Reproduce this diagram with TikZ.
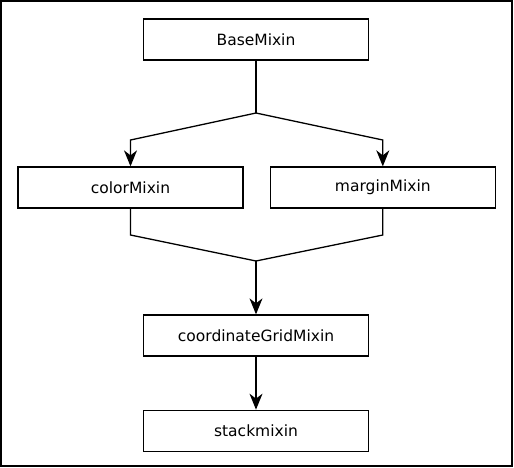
\documentclass[tikz,border=0pt]{standalone}
\usepackage{fontspec}
\setmainfont{DejaVu Sans}
\usetikzlibrary{arrows.meta,positioning}

\begin{document}
\begin{tikzpicture}[
    x=1pt, y=-1pt,
    mixin/.style={rectangle, draw, line width=1.3pt, minimum width=225pt, minimum height=41pt, inner sep=0pt, font=\fontsize{15.5}{18}\selectfont},
    line/.style={line width=1.3pt},
    arrow/.style={line, -{Stealth[length=16pt,width=13pt,inset=5pt]}}
]
    \useasboundingbox (0,0) rectangle (514,467);
    \draw[line width=2pt] (1,1) rectangle (512,466);

    \node[mixin] (base) at (256,39.5) {BaseMixin};
    \node[mixin] (color) at (130.5,187.5) {colorMixin};
    \node[mixin, right=26pt of color] (margin) {marginMixin};
    \node[mixin] (grid) at (256,335.5) {coordinateGridMixin};
    \node[mixin, below=53pt of grid] (stack) {stackmixin};

    \coordinate (split) at (256,113);
    \coordinate (fork) at (0,140);
    \coordinate (merge) at (0,235);
    \coordinate (join) at (256,261);

    \draw[line] (base.south) -- (split);
    \draw[arrow] (split) -- (color.north |- fork) -- (color.north);
    \draw[arrow] (split) -- (margin.north |- fork) -- (margin.north);
    \draw[line] (color.south) -- (color.south |- merge) -- (join);
    \draw[line] (margin.south) -- (margin.south |- merge) -- (join);
    \draw[arrow] (join) -- (grid.north);
    \draw[arrow] (grid) -- (stack);
\end{tikzpicture}
\end{document}
